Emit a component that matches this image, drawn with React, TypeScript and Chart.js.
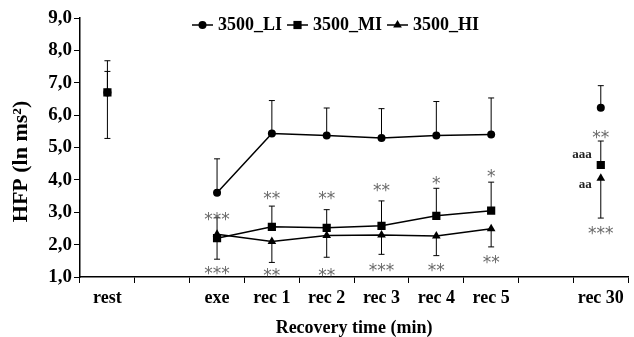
import React, { useEffect, useRef } from 'react';
import { Chart, registerables } from 'chart.js';

Chart.register(...registerables);

const categories = ['rest', '', 'exe', 'rec 1', 'rec 2', 'rec 3', 'rec 4', 'rec 5', '', 'rec 30'];
const seriesNames = ['3500_LI', '3500_MI', '3500_HI'];

const liValues = [6.7, null, 3.6, 5.43, 5.37, 5.29, 5.37, 5.4, null, 6.23];
const liUpper = [7.35, null, 4.65, 6.45, 6.22, 6.2, 6.42, 6.53, null, 6.91];
const liLower = [null, null, null, null, null, null, null, null, null, null];

const miValues = [6.7, null, 2.2, 2.55, 2.52, 2.58, 2.89, 3.05, null, 4.46];
const miUpper = [7.68, null, 2.83, 3.19, 3.08, 3.35, 3.74, 3.93, null, 5.2];
const miLower = [5.28, null, null, null, null, null, null, null, null, null];

const hiValues = [null, null, 2.32, 2.1, 2.28, 2.3, 2.27, 2.49, null, 4.05];
const hiUpper = [null, null, null, null, null, null, null, null, null, null];
const hiLower = [null, null, 1.55, 1.45, 1.61, 1.7, 1.66, 1.93, null, 2.82];

const yMin = 1;
const yMax = 9;
const yStep = 1;

const yTitle = 'HFP (ln ms²)';
const xTitle = 'Recovery time (min)';

const starLabels = ['***', '***', '**', '**', '**', '**', '**', '***', '*', '**', '*', '**', '**', '***'];
const starCategories = [2, 2, 3, 3, 4, 4, 5, 5, 6, 6, 7, 7, 9, 9];
const starValues = [2.92, 1.25, 3.55, 1.2, 3.55, 1.2, 3.82, 1.35, 4.02, 1.35, 4.24, 1.59, 5.46, 2.49];

const letterLabels = ['aaa', 'aa'];
const letterCategories = [9, 9];
const letterValues = [4.79, 3.85];

const SERIF = '"Liberation Serif", "Times New Roman", serif';
const pointStyles = ['circle', 'rect', 'triangle'];
const pointRadii = [4, 5.8, 5];

function drawMarker(ctx: CanvasRenderingContext2D, style: string, x: number, y: number, r: number) {
  ctx.beginPath();
  if (style === 'circle') {
    ctx.arc(x, y, r, 0, Math.PI * 2);
  } else if (style === 'rect') {
    const s = r * Math.SQRT1_2;
    ctx.rect(x - s, y - s, 2 * s, 2 * s);
  } else {
    const h = r * 1.5;
    const w = r * Math.sqrt(3) / 2;
    ctx.moveTo(x, y - r);
    ctx.lineTo(x + w, y - r + h);
    ctx.lineTo(x - w, y - r + h);
    ctx.closePath();
  }
  ctx.fill();
}

const errorBarPlugin = {
  id: 'errorBars',
  beforeDatasetsDraw(chart: any) {
    const ctx = chart.ctx;
    const xs = chart.scales.x;
    const ys = chart.scales.y;
    const sets = [
      [liValues, liUpper, liLower],
      [miValues, miUpper, miLower],
      [hiValues, hiUpper, hiLower],
    ];
    ctx.save();
    ctx.strokeStyle = '#000';
    ctx.lineWidth = 1;
    sets.forEach(([vals, up, lo]) => {
      vals.forEach((v: any, i: number) => {
        if (v == null) return;
        const x = xs.getPixelForValue(i);
        const y = ys.getPixelForValue(v);
        [up[i], lo[i]].forEach((e: any) => {
          if (e == null) return;
          const ye = ys.getPixelForValue(e);
          ctx.beginPath();
          ctx.moveTo(x, y);
          ctx.lineTo(x, ye);
          ctx.moveTo(x - 3, ye);
          ctx.lineTo(x + 3, ye);
          ctx.stroke();
        });
      });
    });
    ctx.restore();
  },
  afterDatasetsDraw(chart: any) {
    const ctx = chart.ctx;
    const xs = chart.scales.x;
    const ys = chart.scales.y;
    ctx.save();
    ctx.fillStyle = '#6a6a6a';
    ctx.font = '17px "DejaVu Sans"';
    ctx.textAlign = 'center';
    ctx.textBaseline = 'alphabetic';
    starLabels.forEach((t, i) => {
      const x = xs.getPixelForValue(starCategories[i]);
      const y = ys.getPixelForValue(starValues[i]);
      ctx.fillText(t, x, y + 10);
    });
    ctx.fillStyle = '#222';
    ctx.font = 'bold 13px ' + SERIF;
    ctx.textAlign = 'right';
    ctx.textBaseline = 'middle';
    letterLabels.forEach((t, i) => {
      const x = xs.getPixelForValue(letterCategories[i]);
      const y = ys.getPixelForValue(letterValues[i]);
      ctx.fillText(t, x - 9, y);
    });
    ctx.restore();
  },
  afterDraw(chart: any) {
    const ctx = chart.ctx;
    const area = chart.chartArea;
    ctx.save();
    // legend
    ctx.font = 'bold 18px ' + SERIF;
    ctx.textBaseline = 'middle';
    ctx.textAlign = 'left';
    ctx.fillStyle = '#000';
    ctx.strokeStyle = '#000';
    ctx.lineWidth = 1.5;
    let x = 192;
    const y = area.top + 7;
    seriesNames.forEach((name, i) => {
      ctx.beginPath();
      ctx.moveTo(x, y);
      ctx.lineTo(x + 21, y);
      ctx.stroke();
      drawMarker(ctx, pointStyles[i], x + 10.5, y, pointRadii[i]);
      const tx = x + 26;
      ctx.fillText(name, tx, y);
      x = tx + ctx.measureText(name).width + 5;
    });
    // y title
    ctx.translate(21, (area.top + area.bottom) / 2 + 14);
    ctx.rotate(-Math.PI / 2);
    ctx.font = 'bold 22px ' + SERIF;
    ctx.textAlign = 'center';
    ctx.textBaseline = 'middle';
    ctx.fillText(yTitle, 0, 0);
    ctx.restore();
  },
};

export default function App() {
  const ref = useRef<HTMLCanvasElement>(null);
  useEffect(() => {
    if (!ref.current) return;
    const mk = (label: string, data: any[], i: number, order: number) => ({
      label,
      data,
      borderColor: '#000',
      backgroundColor: '#000',
      borderWidth: 1.5,
      pointStyle: pointStyles[i],
      pointRadius: pointRadii[i],
      pointBackgroundColor: '#000',
      pointBorderColor: '#000',
      pointBorderWidth: 0,
      spanGaps: false,
      order,
    });
    const chart = new Chart(ref.current, {
      type: 'line',
      data: {
        labels: categories,
        datasets: [
          mk(seriesNames[0], liValues, 0, 1),
          mk(seriesNames[1], miValues, 1, 0),
          mk(seriesNames[2], hiValues, 2, 2),
        ],
      },
      options: {
        responsive: false,
        animation: false,
        layout: { padding: { top: 18, left: 0, right: 0, bottom: 0 } },
        plugins: { legend: { display: false }, tooltip: { enabled: false } },
        scales: {
          x: {
            offset: true,
            grid: { offset: true, drawOnChartArea: false, color: '#000', tickLength: 6, lineWidth: 1 },
            border: { color: '#000', width: 1.5 },
            ticks: { color: '#000', font: { family: SERIF, size: 18, weight: 'bold' }, padding: 5, maxRotation: 0, autoSkip: false },
            title: { display: true, text: xTitle, color: '#000', font: { family: SERIF, size: 18, weight: 'bold', lineHeight: 1 }, padding: 0 },
            afterFit: (s: any) => { s.height = 60; },
          },
          y: {
            min: yMin,
            max: yMax,
            grid: { drawOnChartArea: false, color: '#000', tickLength: 6, lineWidth: 1 },
            border: { color: '#000', width: 1.5 },
            ticks: {
              stepSize: yStep,
              color: '#000',
              padding: 2,
              font: { family: SERIF, size: 19, weight: 'bold' },
              callback: (v: any) => Number(v).toFixed(1).replace('.', ','),
            },
            afterFit: (s: any) => { s.width = 80; },
          },
        },
      },
      plugins: [errorBarPlugin],
    });
    return () => chart.destroy();
  }, []);
  return (
    <div style={{ position: 'absolute', left: 0, top: 0, width: 634, height: 337, background: '#fff' }}>
      <canvas ref={ref} width={634} height={337} />
    </div>
  );
}
